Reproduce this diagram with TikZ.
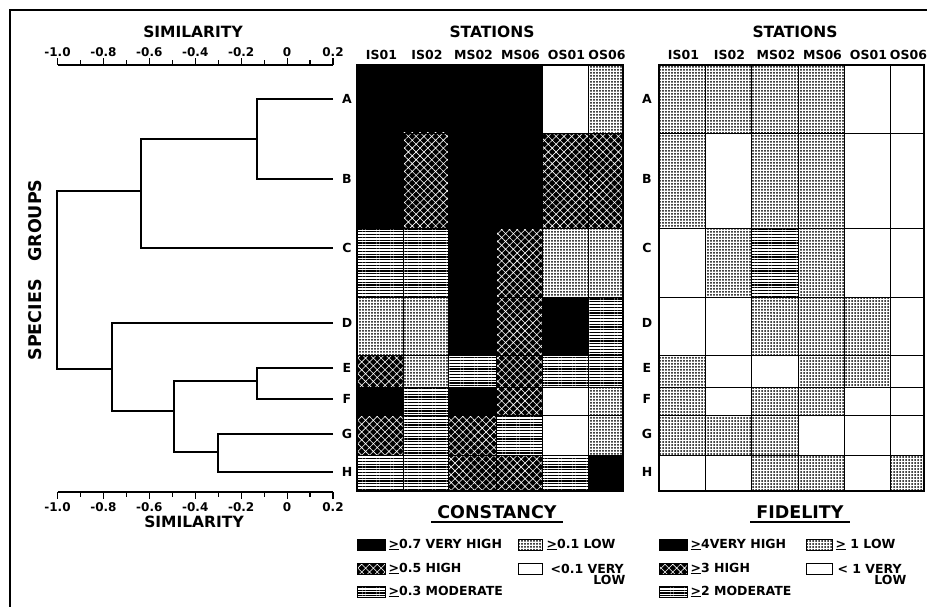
\documentclass[tikz,border=0pt]{standalone}
\usepackage{fontspec}
\setmainfont{DejaVu Sans}
\usetikzlibrary{patterns.meta}

\tikzset{
  title/.style={font=\fontsize{15.5}{17}\selectfont\bfseries, inner sep=0pt},
  heading/.style={font=\fontsize{17.5}{20}\selectfont\bfseries, inner xsep=5.5pt, inner ysep=3pt},
  station/.style={font=\fontsize{12.5}{14}\selectfont\bfseries, inner sep=0pt},
  group/.style={font=\fontsize{12.5}{14}\selectfont\bfseries, inner sep=0pt},
  num/.style={font=\fontsize{12}{14}\selectfont\bfseries, inner sep=0pt},
  legend/.style={font=\fontsize{12.5}{14}\selectfont\bfseries, inner sep=0pt, anchor=west},
  cell/.style={draw=black, line width=0.8pt},
  vh/.style={fill=black},
  hi/.style={preaction={fill=black}, pattern={Hatch[angle=45,distance=5.5pt,line width=0.6pt]}, pattern color=white},
  mo/.style={preaction={fill=white}, pattern={Lines[angle=0,distance=2.8pt,line width=1.2pt]}, pattern color=black},
  lo/.style={preaction={fill=white}, pattern={Dots[distance=3pt,radius=1pt]}, pattern color=black},
  vl/.style={fill=white}
}

\def\rowY{{65,133,228,297,355,387,415,455,491}}
\def\colC{{357,403,448,496,542,588,623}}
\def\colF{{659,705,751,798,844,890,924}}

\begin{document}
\begin{tikzpicture}[x=1pt, y=-1pt, line width=1.2pt]
	\useasboundingbox (0,0) rectangle (927,607);
	\draw[line width=2pt] (10,607) -- (10,10) -- (927,10);

	% similarity axes
	\node[title] (simtop) at (193,32) {SIMILARITY};
	\node[title] (simbot) at (194,522) {SIMILARITY};
	\draw (57.5,65) -- (333,65);
	\draw (57.5,492) -- (333,492);
	\foreach \k in {0,...,12} {
		\pgfmathsetmacro\tx{57.5+22.96*\k}
		\pgfmathsetmacro\tl{iseven(\k) ? 7 : 5}
		\draw (\tx,65) -- (\tx,65-\tl);
		\draw (\tx,492) -- (\tx,492+\tl);
	}
	\foreach \k/\lab in {0/-1.0,2/-0.8,4/-0.6,6/-0.4,8/-0.2,10/0,12/0.2} {
		\node[num] (t\k) at (57.5+22.96*\k,52) {\lab};
		\node[num] (b\k) at (57.5+22.96*\k,507) {\lab};
	}
	\node[font=\fontsize{17.5}{20}\selectfont\bfseries, rotate=90] (spec) at (35,270) {SPECIES\quad GROUPS};

	% group labels and leaves
	\foreach \g/\y in {A/99,B/179,C/248,D/323,E/368,F/399,G/434,H/472} {
		\coordinate (l\g) at (333,\y);
		\node[group] (\g) at (347,\y) {\g};
		\node[group] (f\g) at (647,\y) {\g};
	}
	\coordinate (mAB) at (257,139);
	\coordinate (mABC) at (141,191);
	\coordinate (mEF) at (257,381);
	\coordinate (mGH) at (218,452);
	\coordinate (mEH) at (174,411);
	\coordinate (mDH) at (112,369);
	\coordinate (root) at (57,280);
	\draw (lA) -| (mAB) |- (lB);
	\draw (mAB) -| (mABC) |- (lC);
	\draw (lE) -| (mEF) |- (lF);
	\draw (lG) -| (mGH) |- (lH);
	\draw (mEF) -| (mEH) |- (mGH);
	\draw (lD) -| (mDH) |- (mEH);
	\draw (mABC) -| (root) |- (mDH);

	% constancy matrix
	\node[title] (statC) at (492,32) {STATIONS};
	\node[title] (statF) at (795,32) {STATIONS};
	\foreach \name [count=\j from 0] in {IS01,IS02,MS02,MS06,OS01,OS06} {
		\pgfmathtruncatemacro\jn{\j+1}
		\pgfmathsetmacro\ca{\colC[\j]}
		\pgfmathsetmacro\cb{\colC[\jn]}
		\pgfmathsetmacro\fa{\colF[\j]}
		\pgfmathsetmacro\fb{\colF[\jn]}
		\node[station] (cs\j) at ({(\ca+\cb)/2+1.5},55) {\name};
		\node[station] (fs\j) at ({(\fa+\fb)/2+1.5},55) {\name};
	}
	\foreach \row [count=\i from 0] in {
		{vh,vh,vh,vh,vl,lo},
		{vh,hi,vh,vh,hi,hi},
		{mo,mo,vh,hi,lo,lo},
		{lo,lo,vh,hi,vh,mo},
		{hi,lo,mo,hi,mo,mo},
		{vh,mo,vh,hi,vl,lo},
		{hi,mo,hi,mo,vl,lo},
		{mo,mo,hi,hi,mo,vh}}
		\foreach \val [count=\j from 0] in \row {
			\pgfmathtruncatemacro\jn{\j+1}
			\pgfmathtruncatemacro\in{\i+1}
			\pgfmathsetmacro\xa{\colC[\j]}
			\pgfmathsetmacro\xb{\colC[\jn]}
			\pgfmathsetmacro\ya{\rowY[\i]}
			\pgfmathsetmacro\yb{\rowY[\in]}
			\draw[cell,\val] (\xa,\ya) rectangle (\xb,\yb);
		};
	\draw[line width=1.8pt] (357,65) rectangle (623,491);

	% fidelity matrix
	\foreach \row [count=\i from 0] in {
		{lo,lo,lo,lo,vl,vl},
		{lo,vl,lo,lo,vl,vl},
		{vl,lo,mo,lo,vl,vl},
		{vl,vl,lo,lo,lo,vl},
		{lo,vl,vl,lo,lo,vl},
		{lo,vl,lo,lo,vl,vl},
		{lo,lo,lo,vl,vl,vl},
		{vl,vl,lo,lo,vl,lo}}
		\foreach \val [count=\j from 0] in \row {
			\pgfmathtruncatemacro\jn{\j+1}
			\pgfmathtruncatemacro\in{\i+1}
			\pgfmathsetmacro\xa{\colF[\j]}
			\pgfmathsetmacro\xb{\colF[\jn]}
			\pgfmathsetmacro\ya{\rowY[\i]}
			\pgfmathsetmacro\yb{\rowY[\in]}
			\draw[cell,\val] (\xa,\ya) rectangle (\xb,\yb);
		};
	\draw[line width=1.3pt] (659,65) rectangle (924,491);

	% legends
	\node[heading] (cons) at (497,512) {CONSTANCY};
	\draw[line width=1.5pt] (cons.south west) -- (cons.south east);
	\draw[cell,vh] (357,539) rectangle (385,550);
	\draw[cell,hi] (357,563) rectangle (385,574);
	\draw[cell,mo] (357,586) rectangle (385,597);
	\draw[cell,lo] (518,539) rectangle (542,550);
	\draw[cell,vl] (518,563) rectangle (542,574);
	\node[legend] (cvh) at (388,544.5) {\underline{>}0.7 VERY HIGH};
	\node[legend] (chi) at (388,568.5) {\underline{>}0.5 HIGH};
	\node[legend] (cmo) at (388,591.5) {\underline{>}0.3 MODERATE};
	\node[legend] (clo) at (546,544.5) {\underline{>}0.1 LOW};
	\node[legend] (cvl) at (550,568.5) {<0.1 VERY};
	\node[legend, anchor=east] (cvl2) at (626,580) {LOW};

	\node[heading] (fid) at (800,512) {FIDELITY};
	\draw[line width=1.5pt] (fid.south west) -- (fid.south east);
	\draw[cell,vh] (659,539) rectangle (687,550);
	\draw[cell,hi] (659,563) rectangle (687,574);
	\draw[cell,mo] (659,586) rectangle (687,597);
	\draw[cell,lo] (806,539) rectangle (832,550);
	\draw[cell,vl] (806,563) rectangle (832,574);
	\node[legend] (fvh) at (690,544.5) {\underline{>}4VERY HIGH};
	\node[legend] (fhi) at (690,568.5) {\underline{>}3 HIGH};
	\node[legend] (fmo) at (690,591.5) {\underline{>}2 MODERATE};
	\node[legend] (flo) at (835,544.5) {\underline{>} 1 LOW};
	\node[legend] (fvl) at (837,568.5) {< 1 VERY};
	\node[legend, anchor=east] (fvl2) at (907,580) {LOW};
\end{tikzpicture}
\end{document}
